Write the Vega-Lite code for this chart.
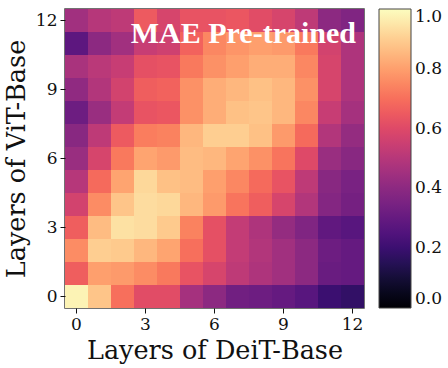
{
  "$schema": "https://vega.github.io/schema/vega-lite/v6.json",
  "width": 299,
  "height": 299,
  "padding": {"left": 4, "top": 9, "right": 2, "bottom": 2},
  "config": {
    "view": {"stroke": "#444", "strokeWidth": 1.5},
    "axis": {
      "labelFont": "DejaVu Serif", "labelFontSize": 17, "labelColor": "#111",
      "titleFont": "DejaVu Serif", "titleFontSize": 25.5, "titleFontWeight": "normal", "titleColor": "#111",
      "tickColor": "#111", "tickSize": 5, "domain": false, "labelPadding": 3
    },
    "legend": {"labelFont": "DejaVu Serif", "labelFontSize": 17, "labelColor": "#111"}
  },
  "title": {
    "text": "MAE Pre-trained", "font": "Liberation Serif", "fontSize": 30, "fontWeight": "bold",
    "color": "white", "anchor": "end", "frame": "group", "offset": -40, "dx": -8
  },
  "data": {"values": [
    {"deit":0,"vit":12,"sim":0.45},{"deit":1,"vit":12,"sim":0.5},{"deit":2,"vit":12,"sim":0.52},{"deit":3,"vit":12,"sim":0.65},{"deit":4,"vit":12,"sim":0.58},{"deit":5,"vit":12,"sim":0.63},{"deit":6,"vit":12,"sim":0.63},{"deit":7,"vit":12,"sim":0.64},{"deit":8,"vit":12,"sim":0.61},{"deit":9,"vit":12,"sim":0.58},{"deit":10,"vit":12,"sim":0.52},{"deit":11,"vit":12,"sim":0.4},{"deit":12,"vit":12,"sim":0.37},
    {"deit":0,"vit":11,"sim":0.28},{"deit":1,"vit":11,"sim":0.4},{"deit":2,"vit":11,"sim":0.45},{"deit":3,"vit":11,"sim":0.54},{"deit":4,"vit":11,"sim":0.56},{"deit":5,"vit":11,"sim":0.67},{"deit":6,"vit":11,"sim":0.75},{"deit":7,"vit":11,"sim":0.78},{"deit":8,"vit":11,"sim":0.8},{"deit":9,"vit":11,"sim":0.79},{"deit":10,"vit":11,"sim":0.72},{"deit":11,"vit":11,"sim":0.57},{"deit":12,"vit":11,"sim":0.48},
    {"deit":0,"vit":10,"sim":0.47},{"deit":1,"vit":10,"sim":0.51},{"deit":2,"vit":10,"sim":0.54},{"deit":3,"vit":10,"sim":0.62},{"deit":4,"vit":10,"sim":0.63},{"deit":5,"vit":10,"sim":0.72},{"deit":6,"vit":10,"sim":0.77},{"deit":7,"vit":10,"sim":0.8},{"deit":8,"vit":10,"sim":0.83},{"deit":9,"vit":10,"sim":0.83},{"deit":10,"vit":10,"sim":0.75},{"deit":11,"vit":10,"sim":0.58},{"deit":12,"vit":10,"sim":0.48},
    {"deit":0,"vit":9,"sim":0.41},{"deit":1,"vit":9,"sim":0.49},{"deit":2,"vit":9,"sim":0.57},{"deit":3,"vit":9,"sim":0.66},{"deit":4,"vit":9,"sim":0.67},{"deit":5,"vit":9,"sim":0.77},{"deit":6,"vit":9,"sim":0.83},{"deit":7,"vit":9,"sim":0.85},{"deit":8,"vit":9,"sim":0.87},{"deit":9,"vit":9,"sim":0.85},{"deit":10,"vit":9,"sim":0.77},{"deit":11,"vit":9,"sim":0.58},{"deit":12,"vit":9,"sim":0.48},
    {"deit":0,"vit":8,"sim":0.32},{"deit":1,"vit":8,"sim":0.43},{"deit":2,"vit":8,"sim":0.53},{"deit":3,"vit":8,"sim":0.63},{"deit":4,"vit":8,"sim":0.64},{"deit":5,"vit":8,"sim":0.77},{"deit":6,"vit":8,"sim":0.83},{"deit":7,"vit":8,"sim":0.87},{"deit":8,"vit":8,"sim":0.88},{"deit":9,"vit":8,"sim":0.85},{"deit":10,"vit":8,"sim":0.75},{"deit":11,"vit":8,"sim":0.54},{"deit":12,"vit":8,"sim":0.46},
    {"deit":0,"vit":7,"sim":0.39},{"deit":1,"vit":7,"sim":0.52},{"deit":2,"vit":7,"sim":0.65},{"deit":3,"vit":7,"sim":0.73},{"deit":4,"vit":7,"sim":0.74},{"deit":5,"vit":7,"sim":0.85},{"deit":6,"vit":7,"sim":0.9},{"deit":7,"vit":7,"sim":0.9},{"deit":8,"vit":7,"sim":0.87},{"deit":9,"vit":7,"sim":0.79},{"deit":10,"vit":7,"sim":0.69},{"deit":11,"vit":7,"sim":0.49},{"deit":12,"vit":7,"sim":0.42},
    {"deit":0,"vit":6,"sim":0.43},{"deit":1,"vit":6,"sim":0.58},{"deit":2,"vit":6,"sim":0.72},{"deit":3,"vit":6,"sim":0.81},{"deit":4,"vit":6,"sim":0.79},{"deit":5,"vit":6,"sim":0.86},{"deit":6,"vit":6,"sim":0.85},{"deit":7,"vit":6,"sim":0.81},{"deit":8,"vit":6,"sim":0.77},{"deit":9,"vit":6,"sim":0.71},{"deit":10,"vit":6,"sim":0.6},{"deit":11,"vit":6,"sim":0.43},{"deit":12,"vit":6,"sim":0.39},
    {"deit":0,"vit":5,"sim":0.5},{"deit":1,"vit":5,"sim":0.69},{"deit":2,"vit":5,"sim":0.81},{"deit":3,"vit":5,"sim":0.92},{"deit":4,"vit":5,"sim":0.87},{"deit":5,"vit":5,"sim":0.86},{"deit":6,"vit":5,"sim":0.8},{"deit":7,"vit":5,"sim":0.75},{"deit":8,"vit":5,"sim":0.69},{"deit":9,"vit":5,"sim":0.63},{"deit":10,"vit":5,"sim":0.52},{"deit":11,"vit":5,"sim":0.39},{"deit":12,"vit":5,"sim":0.35},
    {"deit":0,"vit":4,"sim":0.57},{"deit":1,"vit":4,"sim":0.76},{"deit":2,"vit":4,"sim":0.88},{"deit":3,"vit":4,"sim":0.93},{"deit":4,"vit":4,"sim":0.92},{"deit":5,"vit":4,"sim":0.85},{"deit":6,"vit":4,"sim":0.79},{"deit":7,"vit":4,"sim":0.71},{"deit":8,"vit":4,"sim":0.66},{"deit":9,"vit":4,"sim":0.58},{"deit":10,"vit":4,"sim":0.49},{"deit":11,"vit":4,"sim":0.38},{"deit":12,"vit":4,"sim":0.34},
    {"deit":0,"vit":3,"sim":0.66},{"deit":1,"vit":3,"sim":0.86},{"deit":2,"vit":3,"sim":0.94},{"deit":3,"vit":3,"sim":0.93},{"deit":4,"vit":3,"sim":0.89},{"deit":5,"vit":3,"sim":0.74},{"deit":6,"vit":3,"sim":0.62},{"deit":7,"vit":3,"sim":0.53},{"deit":8,"vit":3,"sim":0.48},{"deit":9,"vit":3,"sim":0.42},{"deit":10,"vit":3,"sim":0.37},{"deit":11,"vit":3,"sim":0.29},{"deit":12,"vit":3,"sim":0.27},
    {"deit":0,"vit":2,"sim":0.76},{"deit":1,"vit":2,"sim":0.9},{"deit":2,"vit":2,"sim":0.89},{"deit":3,"vit":2,"sim":0.85},{"deit":4,"vit":2,"sim":0.81},{"deit":5,"vit":2,"sim":0.7},{"deit":6,"vit":2,"sim":0.62},{"deit":7,"vit":2,"sim":0.53},{"deit":8,"vit":2,"sim":0.49},{"deit":9,"vit":2,"sim":0.45},{"deit":10,"vit":2,"sim":0.4},{"deit":11,"vit":2,"sim":0.32},{"deit":12,"vit":2,"sim":0.3},
    {"deit":0,"vit":1,"sim":0.66},{"deit":1,"vit":1,"sim":0.8},{"deit":2,"vit":1,"sim":0.79},{"deit":3,"vit":1,"sim":0.76},{"deit":4,"vit":1,"sim":0.72},{"deit":5,"vit":1,"sim":0.63},{"deit":6,"vit":1,"sim":0.58},{"deit":7,"vit":1,"sim":0.52},{"deit":8,"vit":1,"sim":0.48},{"deit":9,"vit":1,"sim":0.45},{"deit":10,"vit":1,"sim":0.4},{"deit":11,"vit":1,"sim":0.31},{"deit":12,"vit":1,"sim":0.3},
    {"deit":0,"vit":0,"sim":0.98},{"deit":1,"vit":0,"sim":0.88},{"deit":2,"vit":0,"sim":0.7},{"deit":3,"vit":0,"sim":0.61},{"deit":4,"vit":0,"sim":0.61},{"deit":5,"vit":0,"sim":0.46},{"deit":6,"vit":0,"sim":0.4},{"deit":7,"vit":0,"sim":0.33},{"deit":8,"vit":0,"sim":0.32},{"deit":9,"vit":0,"sim":0.3},{"deit":10,"vit":0,"sim":0.27},{"deit":11,"vit":0,"sim":0.2},{"deit":12,"vit":0,"sim":0.18}
  ]},
  "mark": {"type": "rect"},
  "encoding": {
    "x": {"field": "deit", "type": "ordinal", "axis": {"values": [0,3,6,9,12], "labelAngle": 0, "title": "Layers of DeiT-Base", "titlePadding": 6}},
    "y": {"field": "vit", "type": "ordinal", "sort": "descending", "axis": {"values": [0,3,6,9,12], "title": "Layers of ViT-Base", "titlePadding": 6}},
    "color": {
      "field": "sim", "type": "quantitative",
      "scale": {"scheme": "magma", "domain": [0, 1]},
      "legend": {
        "title": null, "gradientLength": 299, "gradientThickness": 32,
        "values": [0, 0.2, 0.4, 0.6, 0.8, 1.0], "format": ".1f",
        "gradientStrokeColor": "#444", "gradientStrokeWidth": 1, "offset": 15, "labelOffset": 4
      }
    }
  }
}
